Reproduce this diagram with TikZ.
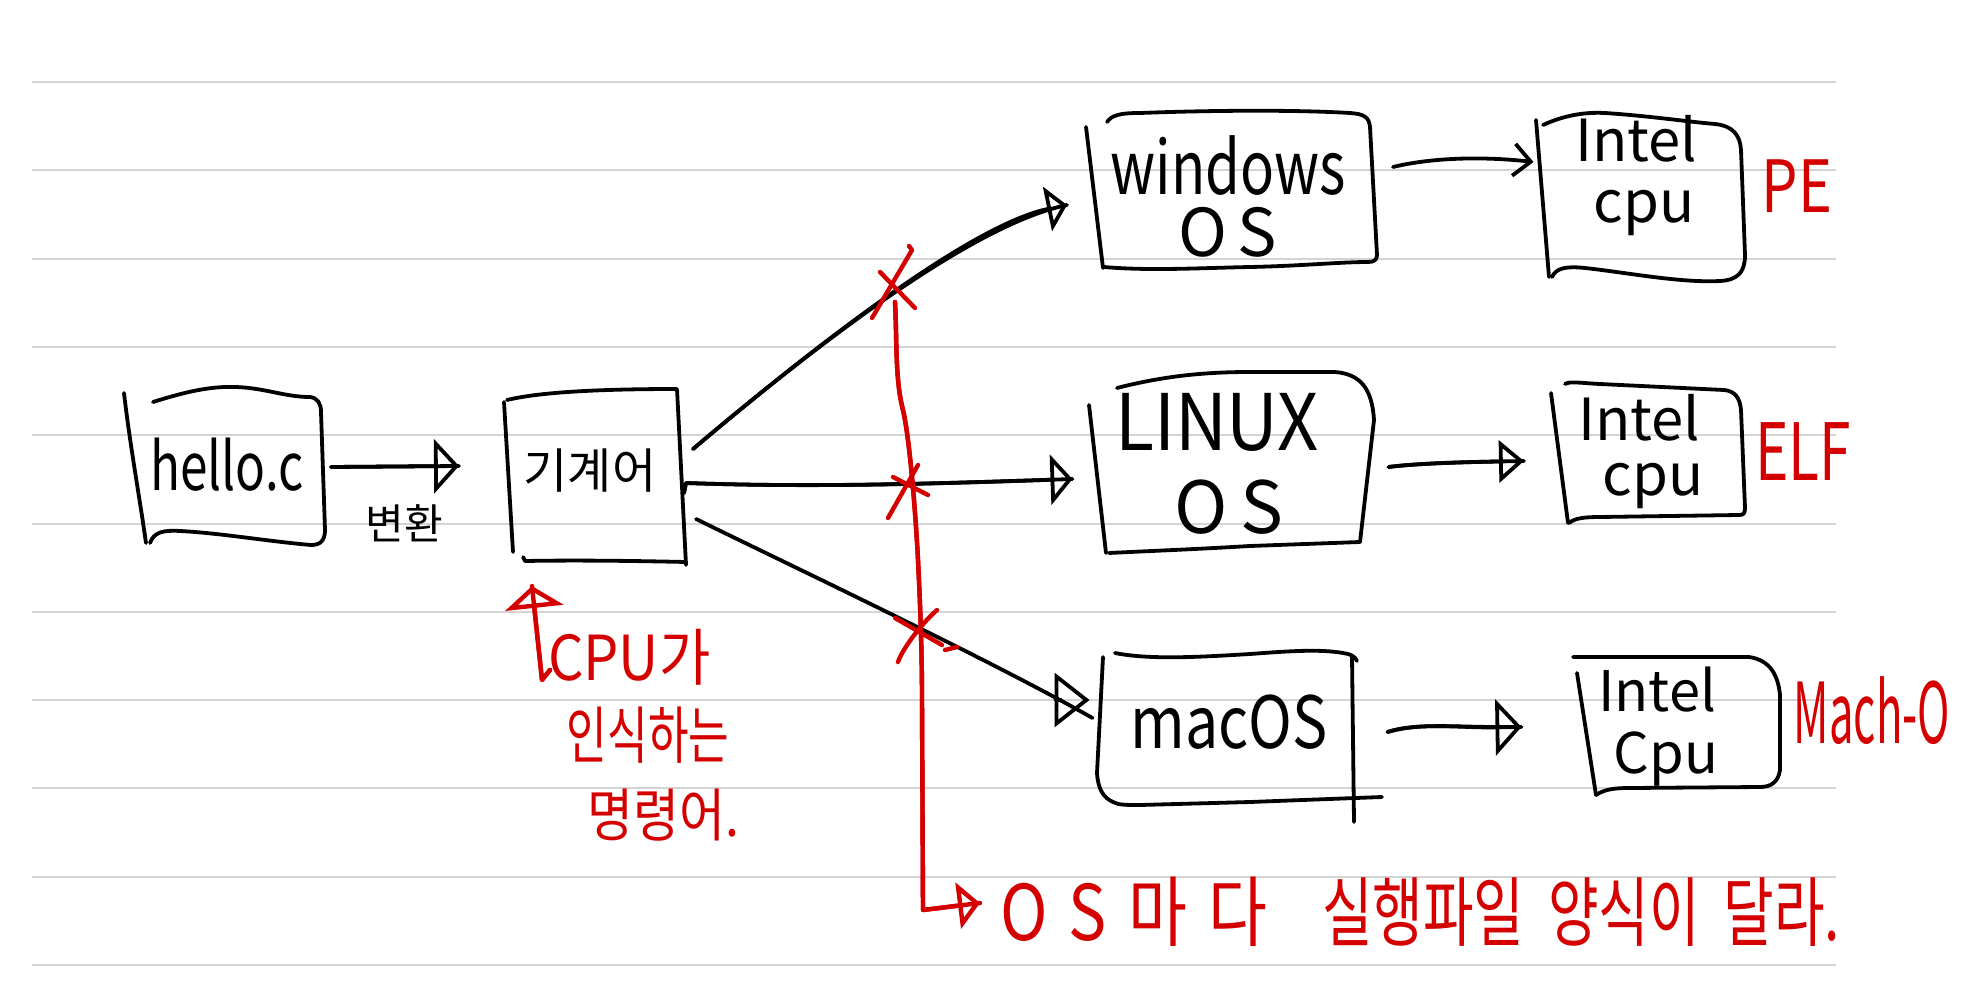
\documentclass[tikz,border=0pt]{standalone}
\usepackage{fontspec}
\setmainfont{Noto Sans CJK KR}
\usepackage{graphicx}
\usetikzlibrary{arrows.meta,calc}
\definecolor{pen}{RGB}{0,0,0}
\definecolor{redpen}{RGB}{212,0,0}
\definecolor{rulegray}{RGB}{212,212,212}
\newcommand\fsz[1]{\fontsize{#1}{#1}\selectfont}
\newcommand\hw[3]{\scalebox{#1}[#2]{#3}}
\begin{document}
\begin{tikzpicture}[x=1pt,y=-1pt,
  blk/.style={color=pen,draw,line width=3.8pt,line cap=round,line join=round},
  rdp/.style={color=redpen,draw,line width=4.4pt,line cap=round,line join=round},
  ruleline/.style={draw=rulegray,line width=2pt},
  boxn/.style={draw=none,inner sep=0pt,outer sep=0pt},
  txt/.style={inner sep=0pt,outer sep=0pt,anchor=base,text=pen},
  rtxt/.style={txt,text=redpen},
  tri/.style n args={2}{-{Triangle[open,length=#1,width=#2]},postaction={draw,-}},
  trin/.style n args={2}{-{Triangle[open,length=#1,width=#2]}},
  barb/.style={-{Straight Barb[length=17pt,width=32pt]}}]
\useasboundingbox (0,0) rectangle (1973,1000);
\fill[white] (0,0) rectangle (1973,1000);
% ruled paper
\foreach \k in {0,...,10}
  \draw[ruleline] (32,{82+88.3*\k}) -- (1836,{82+88.3*\k});

% ---------- box nodes (invisible extents) ----------
\node[boxn,minimum width=200pt,minimum height=155pt] (hello) at (224,470) {};
\node[boxn,minimum width=182pt,minimum height=176pt] (mach) at (595,477) {};
\node[boxn,minimum width=290pt,minimum height=155pt] (win) at (1232,190) {};
\node[boxn,minimum width=209pt,minimum height=170pt] (cpuA) at (1641,198) {};
\node[boxn,minimum width=285pt,minimum height=181pt] (lin) at (1232,462) {};
\node[boxn,minimum width=194pt,minimum height=139pt] (cpuB) at (1648,454) {};
\node[boxn,minimum width=257pt,minimum height=152pt] (mac) at (1226,729) {};
\node[boxn,minimum width=207pt,minimum height=138pt] (cpuC) at (1677,726) {};

% ---------- hand drawn outlines ----------
% hello.c
\draw[blk] (124,393) .. controls (130,445) and (140,500) .. (146,543);
\draw[blk] (153,402) .. controls (185,392) and (210,386) .. (236,387) .. controls (265,388) and (285,397) .. (310,397) .. controls (318,398) and (321,404) .. (321,412) -- (325,530) .. controls (325,541) and (320,545) .. (311,545);
\draw[blk] (150,543) .. controls (154,532) and (163,530) .. (180,531) .. controls (220,533) and (265,541) .. (311,545);
% machine code
\draw[blk] (504,402) -- (513,552);
\draw[blk] (507,400) .. controls (540,392) and (600,389) .. (677,389) -- (686,565);
\draw[blk] (523,557) -- (525,561) .. controls (580,560) and (640,561) .. (686,562);
% windows
\draw[blk] (1086,127) -- (1103,268);
\draw[blk] (1107,122) .. controls (1112,115) and (1120,113) .. (1140,113) .. controls (1220,110) and (1300,110) .. (1350,113) .. controls (1364,114) and (1369,117) .. (1370,127) -- (1377,255) .. controls (1377,260) and (1374,262) .. (1368,262);
\draw[blk] (1104,267) .. controls (1150,271) and (1200,268) .. (1250,267) .. controls (1300,266) and (1340,262) .. (1368,262);
% cpu A
\draw[blk] (1536,120) -- (1549,277);
\draw[blk] (1543,125) .. controls (1565,115) and (1585,112) .. (1605,113) .. controls (1650,116) and (1690,122) .. (1715,124) .. controls (1733,126) and (1740,135) .. (1741,150) -- (1745,255) .. controls (1745,272) and (1738,280) .. (1720,281);
\draw[blk] (1552,277) .. controls (1556,268) and (1566,266) .. (1585,268) .. controls (1630,273) and (1680,283) .. (1720,281);
% linux
\draw[blk] (1089,405) -- (1106,553);
\draw[blk] (1117,388) .. controls (1160,377) and (1200,372) .. (1250,372) -- (1335,372) .. controls (1360,374) and (1372,388) .. (1374,420) -- (1360,542);
\draw[blk] (1109,553) .. controls (1150,551) and (1200,549) .. (1250,546) -- (1360,542);
% cpu B
\draw[blk] (1551,393) -- (1568,523);
\draw[blk] (1565,384) .. controls (1570,381) and (1580,383) .. (1600,384) -- (1724,390) .. controls (1735,391) and (1740,398) .. (1741,410) -- (1745,508) .. controls (1745,514) and (1743,515) .. (1739,515);
\draw[blk] (1569,523) .. controls (1575,518) and (1585,517) .. (1600,517) -- (1739,515);
% macOS
\draw[blk] (1103,657) -- (1097,773) .. controls (1098,790) and (1104,798) .. (1113,802);
\draw[blk] (1115,653) .. controls (1150,660) and (1200,657) .. (1250,654) .. controls (1290,651) and (1320,649) .. (1343,653) .. controls (1350,654) and (1355,656) .. (1357,661);
\draw[blk] (1352,656) -- (1354,822);
\draw[blk] (1113,802) .. controls (1118,805) and (1126,805) .. (1140,805) -- (1250,802) -- (1382,797);
% cpu C
\draw[blk] (1573,657) -- (1749,657) .. controls (1770,660) and (1778,675) .. (1780,695) -- (1780,770) .. controls (1778,783) and (1770,787) .. (1760,787);
\draw[blk] (1577,673) -- (1596,795);
\draw[blk] (1596,795) .. controls (1605,789) and (1615,788) .. (1630,788) -- (1760,787);

% ---------- texts ----------
\node[txt] (thello) at (227,490) {\hw{0.75}{1}{\fsz{66}hello.c}};
\node[txt] (tmach) at (590,488) {\fsz{48}기계어};
\node[txt] (tconv) at (404,539) {\fsz{42}변환};
\node[txt,text height=55pt,text depth=0pt] (twin1) at (1228,195) {\hw{0.76}{1}{\fsz{74}windows}};
\node[txt,text height=45pt,text depth=0pt] (twin2) at (1228,257) {\fsz{66}O\hspace{10pt}S};
\node[txt,text height=56pt,text depth=0pt] (tlin1) at (1217,450) {\hw{0.92}{1}{\fsz{78}LINUX}};
\node[txt,text height=48pt,text depth=0pt] (tlin2) at (1229,533) {\fsz{72}O\hspace{12pt}S};
\node[txt] (tmac) at (1229,748) {\hw{0.82}{1}{\fsz{72}macOS}};
\node[txt,text height=42pt,text depth=0pt] (tia) at (1636,162) {\fsz{58}Intel};
\node[txt,text height=28pt,text depth=13pt] (tca) at (1644,223) {\fsz{58}cpu};
\node[txt,text height=42pt,text depth=0pt] (tib) at (1639,440) {\fsz{58}Intel};
\node[txt,text height=28pt,text depth=13pt] (tcb) at (1653,495) {\fsz{58}cpu};
\node[txt,text height=42pt,text depth=0pt] (tic) at (1657,711) {\fsz{56}Intel};
\node[txt,text height=36pt,text depth=13pt] (tcc) at (1666,773) {\fsz{56}Cpu};
\node[rtxt] (tpe) at (1797,213) {\hw{0.8}{1}{\fsz{72}PE}};
\node[rtxt] (telf) at (1803,480) {\hw{0.72}{1}{\fsz{79}ELF}};
\node[rtxt] (tmacho) at (1872,743) {\hw{0.52}{1}{\fsz{84}Mach-O}};
\node[rtxt,anchor=base west,text height=45pt,text depth=10pt] (cpulbl) at (548,680) {\hw{0.9}{1}{\fsz{62}CPU가}};
\node[rtxt,text height=55pt,text depth=6pt] (tinsik) at (648,758) {\hw{0.92}{1.3}{\fsz{48}인식하는}};
\node[rtxt,text height=48pt,text depth=6pt] (tmyeong) at (663,836) {\hw{1}{1.15}{\fsz{50}명령어.}};
\node[rtxt,anchor=base west] (btext) at (1000,940) {\hw{1}{1.2}{\fsz{64}\makebox[267pt][s]{O\hfill S\hfill 마\hfill 다}}\hspace{55pt}\hw{1}{1.38}{\fsz{55}\makebox[518pt][s]{실행파일\hfill 양식이\hfill 달라.}}};

% ---------- black connectors ----------
\draw[blk,tri={25pt}{54pt}] ($(hello.east)+(7,-3)$) -- ($(mach.west)+(-45,-11)$);
\draw[blk,tri={20pt}{45pt}] ($(mach.east)+(7,-28)$) .. controls (810,350) and (970,225) .. ($(win.west)+(-20,15)$);
\draw[blk,tri={22pt}{50pt}] ($(mach.east)+(-2,16)$) -- ($(mach.east)+(0,6)$) .. controls (800,487) and (900,485) .. ($(lin.west)+(-17,17)$);
\draw[blk,trin={35pt}{54pt}] ($(mach.east)+(10,42)$) .. controls (800,570) and (990,660) .. ($(mac.west)+(-5,-11)$) ($(mac.west)+(-36,-29)$) -- ($(mac.west)+(-8,-29)$);
\draw[blk,barb] ($(win.east)+(16,-23)$) .. controls (1430,158) and (1480,156) .. ($(cpuA.west)+(-3,-36)$);
\draw[blk,tri={25pt}{42pt}] ($(lin.east)+(14,5)$) .. controls (1420,463) and (1470,462) .. ($(cpuB.west)+(-27,7)$);
\draw[blk,tri={26pt}{56pt}] ($(mac.east)+(33,3)$) .. controls (1420,722) and (1460,728) .. ($(cpuC.west)+(-52,1)$);

% ---------- red annotations ----------
\coordinate (redtop) at (895,302);
\draw[rdp,tri={22pt}{46pt}] (redtop) .. controls (897,340) and (895,380) .. (903,410) .. controls (910,440) and (916,520) .. (918,560) .. controls (920,600) and (922,650) .. (922,700) -- (923,910) -- ($(btext.base west)+(-20,-37)$);
\draw[rdp,tri={22pt}{58pt}] ($(cpulbl.base west)+(2,-10)$) -- ($(cpulbl.base west)+(-6,0)$) -- ($(mach.south west)+(28,21)$);
% crosses
\draw[rdp] (872,318) -- (912,250) -- (909,246);
\draw[rdp] (880,272) -- (915,308);
\draw[rdp] (888,518) -- (918,465);
\draw[rdp] (893,477) -- (928,495);
\draw[rdp] (898,662) .. controls (902,650) and (920,625) .. (937,610);
\draw[rdp] (895,618) -- (942,645);
\draw[rdp] (945,650) -- (957,647);
\end{tikzpicture}
\end{document}
